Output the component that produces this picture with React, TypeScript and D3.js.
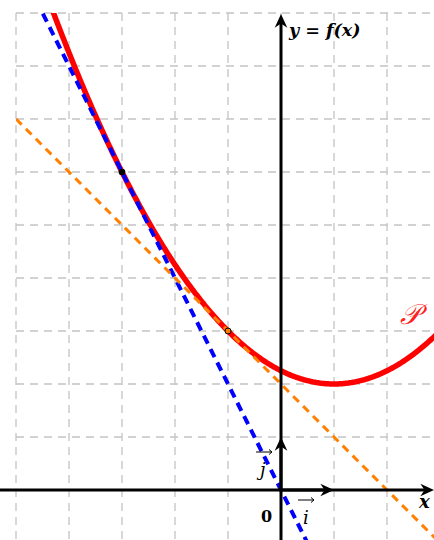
import * as d3 from 'd3'

// parabola P : y = a (x - h)^2 + k
const parabola = { a: 0.25, h: 1, k: 2 }
const tangentAt = [-3, -1]
const tangentColors = ['#0000ff', '#ff8000']
const gridX = [-5, -4, -3, -2, -1, 0, 1, 2, 3]
const gridY = [-1, 0, 1, 2, 3, 4, 5, 6, 7, 8, 9]

const W = 434
const H = 540

export default function App() {
  const x = d3.scaleLinear([-5, 0], [16, 281])
  const y = d3.scaleLinear([0, 9], [490, 13])
  const f = (t: number) => parabola.a * (t - parabola.h) ** 2 + parabola.k
  const df = (t: number) => 2 * parabola.a * (t - parabola.h)

  const xs = d3.range(-5, 3.01, 0.02)
  const line = d3
    .line<number>()
    .x((d) => x(d))
    .y((d) => y(f(d)))

  const clipX0 = x(-5)
  const clipY0 = y(9)

  const arrowHead = (tx: number, ty: number, dir: 'r' | 'u', s = 1) => {
    const L = 13 * s
    const Wd = 6 * s
    const back = 4 * s
    if (dir === 'r')
      return `M${tx},${ty} L${tx - L},${ty - Wd} L${tx - L + back},${ty} L${tx - L},${ty + Wd} Z`
    return `M${tx},${ty} L${tx - Wd},${ty + L} L${tx},${ty + L - back} L${tx + Wd},${ty + L} Z`
  }

  return (
    <svg
      width={W}
      height={H}
      style={{ position: 'absolute', left: 0, top: 0, background: 'white' }}
    >
      <defs>
        <clipPath id="plot">
          <rect x={clipX0} y={clipY0} width={W - clipX0} height={H - clipY0} />
        </clipPath>
      </defs>
      {/* grid */}
      <g stroke="#c4c4c4" strokeWidth={1.3} strokeDasharray="8,6">
        {gridX.map((g) => (
          <line key={'gx' + g} x1={x(g)} x2={x(g)} y1={clipY0} y2={H} />
        ))}
        {gridY.map((g) => (
          <line key={'gy' + g} x1={clipX0} x2={W} y1={y(g)} y2={y(g)} />
        ))}
      </g>
      <g clipPath="url(#plot)">
        <path
          d={line(xs) || undefined}
          fill="none"
          stroke="#ff0000"
          strokeWidth={5.5}
        />
        {/* tangents, drawn over the curve */}
        {tangentAt.map((t, i) => {
          const m = df(t)
          const y0 = f(t)
          const xa = -5
          const xb = 3
          return (
            <line
              key={'t' + i}
              x1={x(xa)}
              y1={y(y0 + m * (xa - t))}
              x2={x(xb)}
              y2={y(y0 + m * (xb - t))}
              stroke={tangentColors[i]}
              strokeWidth={i === 0 ? 4 : 3}
              strokeDasharray={i === 0 ? '9,6' : '8,6'}
            />
          )
        })}
      </g>
      {/* axes */}
      <line x1={0} x2={W - 6} y1={y(0)} y2={y(0)} stroke="black" strokeWidth={3} />
      <path d={arrowHead(W, y(0), 'r', 1.05)} fill="black" />
      <line x1={x(0)} x2={x(0)} y1={H} y2={22} stroke="black" strokeWidth={3} />
      <path d={arrowHead(x(0), 14, 'u', 1.05)} fill="black" />
      {/* unit vectors */}
      <line x1={x(0)} x2={x(1) - 6} y1={y(0)} y2={y(0)} stroke="black" strokeWidth={3} />
      <path d={arrowHead(x(1), y(0), 'r', 1.05)} fill="black" />
      <line x1={x(0)} x2={x(0)} y1={y(0)} y2={y(1) + 6} stroke="black" strokeWidth={3} />
      <path d={arrowHead(x(0), y(1), 'u', 1.05)} fill="black" />
      {/* tangent points */}
      <circle cx={x(tangentAt[0])} cy={y(f(tangentAt[0]))} r={3.3} fill="black" />
      <circle
        cx={x(tangentAt[1])}
        cy={y(f(tangentAt[1]))}
        r={3}
        fill="#ff8000"
        stroke="black"
        strokeWidth={1}
      />
      {/* labels */}
      <g fontFamily="'DejaVu Serif', serif" fill="black">
        <text x={289} y={36} fontSize={17.5} fontWeight="bold" fontStyle="italic">
          y = f(x)
        </text>
        <text x={419} y={508} fontSize={18} fontWeight="bold" fontStyle="italic">
          x
        </text>
        <text x={261} y={522} fontSize={16} fontWeight="bold">
          0
        </text>
        <text x={303} y={524} fontSize={18} fontStyle="italic">
          i
        </text>
        <text x={260} y={476} fontSize={18} fontStyle="italic">
          j
        </text>
      </g>
      {/* vector arrows over i and j */}
      <g stroke="black" strokeWidth={1} fill="none">
        <line x1={298} x2={314} y1={500} y2={500} />
        <path d="M311,497.5 L314,500 L311,502.5" />
        <line x1={256} x2={272} y1={452} y2={452} />
        <path d="M269,449.5 L272,452 L269,454.5" />
      </g>
      <text
        x={400}
        y={324}
        fontSize={28}
        fill="#ff2020"
        fontStyle="italic"
        fontFamily="'DejaVu Serif', serif"
      >
        𝒫
      </text>
    </svg>
  )
}
